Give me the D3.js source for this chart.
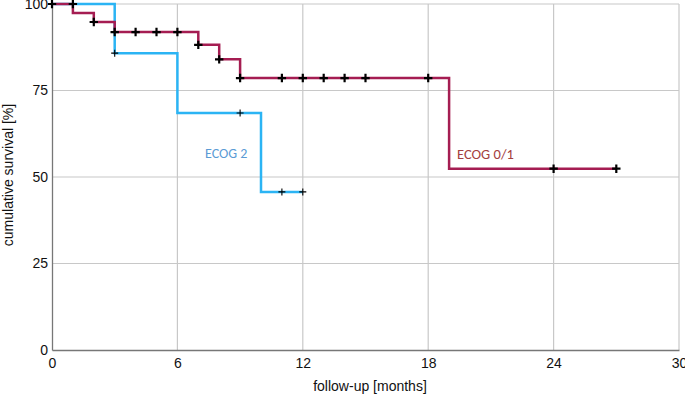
<!DOCTYPE html>
<html><head><meta charset="utf-8">
<script src="https://cdn.jsdelivr.net/npm/d3@7"></script>
<style>body{margin:0;background:#fff}svg{display:block}</style>
</head><body>
<svg id="c" width="685" height="396"></svg>
<script>
const xTicks = [0, 6, 12, 18, 24, 30];
const yTicks = [0, 25, 50, 75, 100];

const ecog01Times = [0, 1, 2, 3, 7, 8, 9, 19, 27];
const ecog01Surv  = [100, 97.4, 94.8, 91.9, 88.2, 84.0, 78.6, 52.4, 52.4];
const ecog01CensorTimes = [0, 1, 2, 3, 4, 5, 6, 7, 8, 9, 11, 12, 13, 14, 15, 18, 24, 27];
const ecog01CensorSurv  = [100, 100, 94.8, 91.9, 91.9, 91.9, 91.9, 88.2, 84.0, 78.6, 78.6, 78.6, 78.6, 78.6, 78.6, 78.6, 52.4, 52.4];

const ecog2Times = [0, 3, 6, 10, 12];
const ecog2Surv  = [100, 85.8, 68.5, 45.7, 45.7];
const ecog2CensorTimes = [3, 9, 11, 12];
const ecog2CensorSurv  = [85.8, 68.5, 45.7, 45.7];

const svg = d3.select("#c");
const L = 52, R = 679, T = 4, B = 350;
const x = d3.scaleLinear().domain([0, 30]).range([L, R]);
const y = d3.scaleLinear().domain([0, 100]).range([B, T]);

// grid
svg.append("g").selectAll("line").data(xTicks.filter(d => d > 0)).join("line")
  .attr("x1", d => x(d)).attr("x2", d => x(d)).attr("y1", T).attr("y2", B)
  .attr("stroke", "#c8c8c8").attr("stroke-width", 1.2);
svg.append("g").selectAll("line").data(yTicks.filter(d => d > 0)).join("line")
  .attr("x1", L).attr("x2", R).attr("y1", d => y(d)).attr("y2", d => y(d))
  .attr("stroke", "#c8c8c8").attr("stroke-width", 1.2);

// axes
const font = "'Liberation Sans', Arial, sans-serif";
const xa = svg.append("g").attr("transform", `translate(0,${B})`)
  .call(d3.axisBottom(x).tickValues(xTicks).tickSize(0).tickPadding(8));
xa.select(".domain").attr("stroke", "#777").attr("stroke-width", 1.3);
xa.selectAll("text").attr("font-family", font).attr("font-size", 14).attr("fill", "#111");
const ya = svg.append("g").attr("transform", `translate(${L},0)`)
  .call(d3.axisLeft(y).tickValues(yTicks).tickSize(0).tickPadding(4));
ya.select(".domain").attr("stroke", "#777").attr("stroke-width", 1.3);
ya.selectAll("text").attr("font-family", font).attr("font-size", 14).attr("fill", "#111");

svg.append("text").attr("x", 370).attr("y", 391).attr("text-anchor", "middle")
  .attr("font-family", font).attr("font-size", 14).attr("fill", "#111").text("follow-up [months]");
svg.append("text").attr("transform", "translate(13,175) rotate(-90)").attr("text-anchor", "middle")
  .attr("font-family", font).attr("font-size", 14).attr("fill", "#111").text("cumulative survival [%]");

const line = d3.line().x(d => x(d[0])).y(d => y(d[1])).curve(d3.curveStepAfter);

// ECOG 2
svg.append("path").datum(ecog2Times.map((t, i) => [t, ecog2Surv[i]]))
  .attr("d", line).attr("fill", "none").attr("stroke", "#2bb4f4").attr("stroke-width", 2.5);
// ECOG 0/1
svg.append("path").datum(ecog01Times.map((t, i) => [t, ecog01Surv[i]]))
  .attr("d", line).attr("fill", "none").attr("stroke", "#a51d52").attr("stroke-width", 2.5);

function plus(g, data, size, sw) {
  g.selectAll("path").data(data).join("path")
    .attr("d", d => `M${x(d[0]) - size},${y(d[1])}H${x(d[0]) + size}M${x(d[0])},${y(d[1]) - size}V${y(d[1]) + size}`)
    .attr("stroke", "#000").attr("stroke-width", sw).attr("fill", "none");
}
plus(svg.append("g"), ecog2CensorTimes.map((t, i) => [t, ecog2CensorSurv[i]]), 3.5, 1.1);
plus(svg.append("g"), ecog01CensorTimes.map((t, i) => [t, ecog01CensorSurv[i]]), 4.2, 2.2);

const lf = "Carlito, 'Open Sans', 'Liberation Sans', sans-serif";
svg.append("text").attr("x", 205).attr("y", 158).attr("font-family", lf).attr("font-size", 14)
  .attr("fill", "#5b9bd5").text("ECOG 2");
svg.append("text").attr("x", 457).attr("y", 159).attr("font-family", lf).attr("font-size", 14.5)
  .attr("fill", "#a3403e").text("ECOG 0/1");
</script>
</body></html>
